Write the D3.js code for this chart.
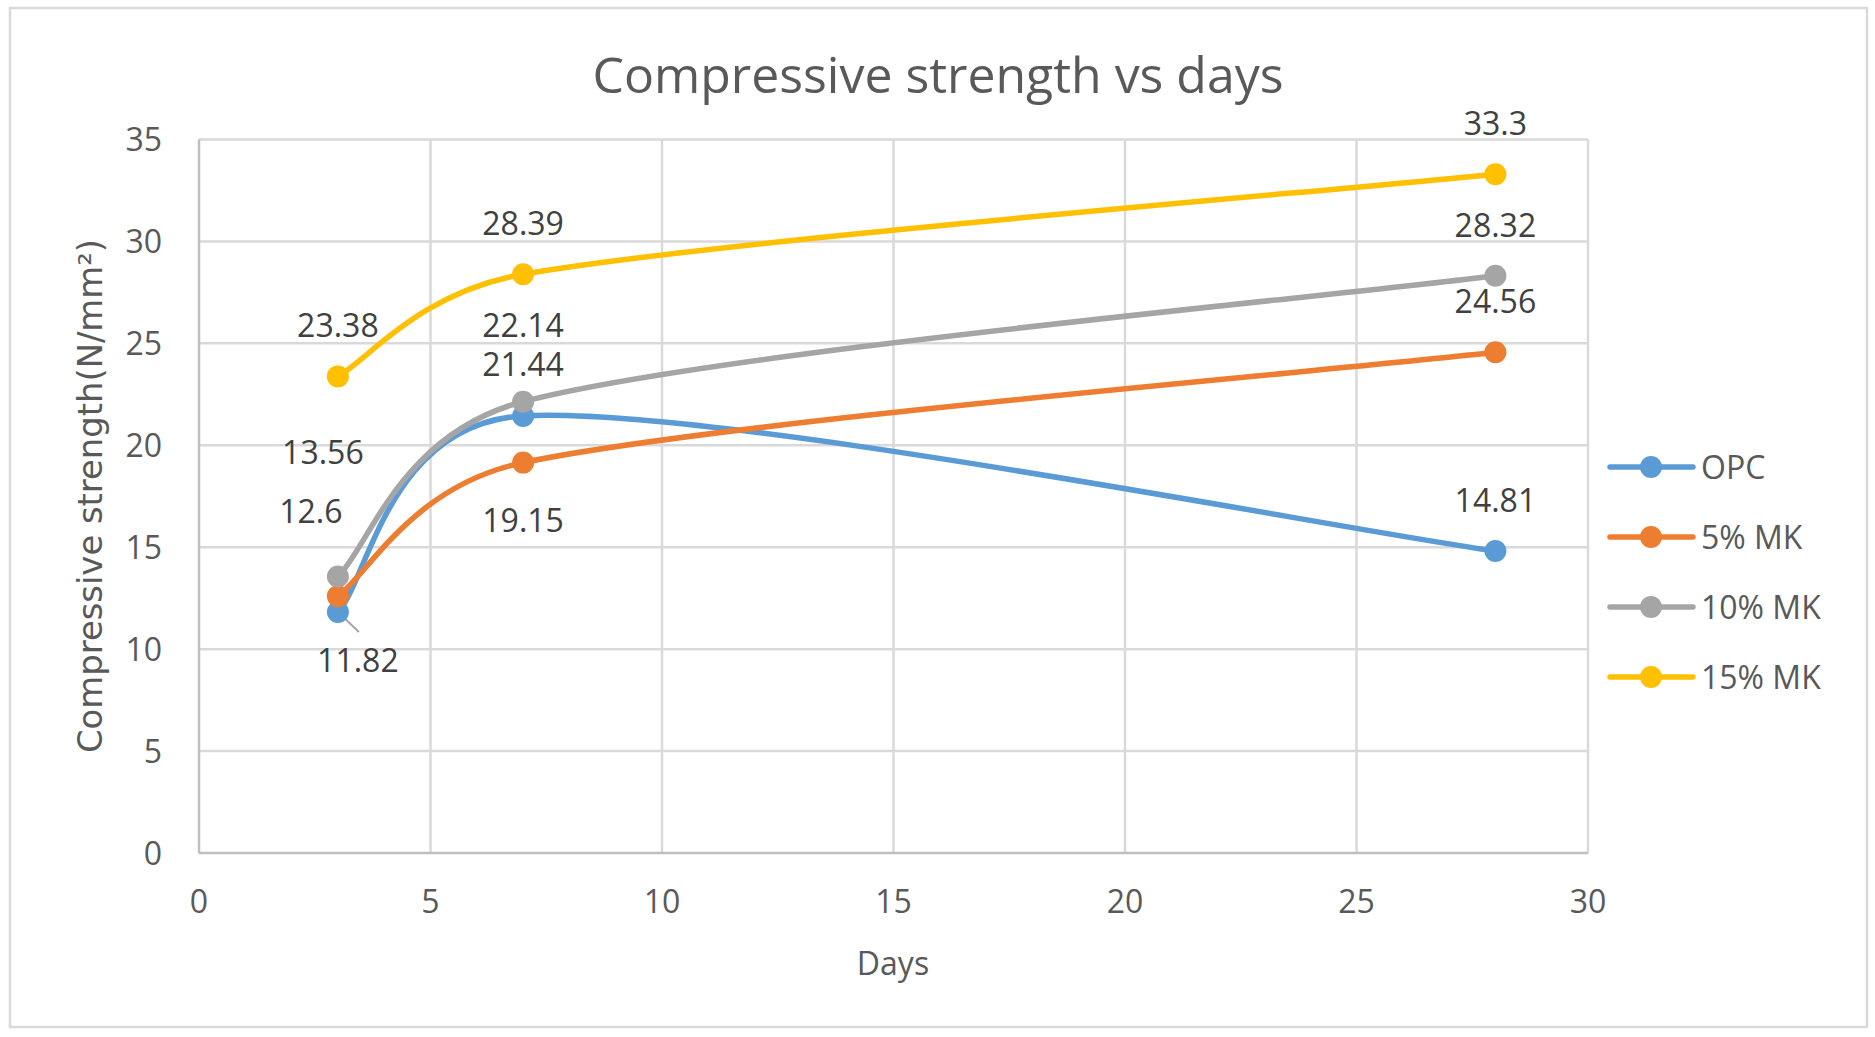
<!DOCTYPE html>
<html>
<head>
<meta charset="utf-8">
<script src="https://d3js.org/d3.v7.min.js"></script>
<style>
    body { margin: 0; background: #fff; }
    #chart-area { width: 1875px; height: 1037px; }
</style>
</head>
<body>
<div id="chart-area"></div>
<script>
// data
var days = [3, 7, 28];
var seriesNames = ["OPC", "5% MK", "10% MK", "15% MK"];
var opc = [11.82, 21.44, 14.81];
var mk5 = [12.6, 19.15, 24.56];
var mk10 = [13.56, 22.14, 28.32];
var mk15 = [23.38, 28.39, 33.3];
var xTicks = [0, 5, 10, 15, 20, 25, 30];
var yTicks = [0, 5, 10, 15, 20, 25, 30, 35];

var colors = ["#5B9BD5", "#ED7D31", "#A5A5A5", "#FFC000"];

// label offsets (px from marker) - some labels were dragged by hand in the original
var labelOffsets = [
    [[20, 60], [0, -40], [0, -39]],
    [[-27, -73], [0, 69], [0, -39]],
    [[-15, -113], [0, -65], [0, -39]],
    [[0, -39], [0, -39], [0, -39]]
];

lineChart = function(_parentElement){
    this.parentElement = _parentElement;
    this.series = [opc, mk5, mk10, mk15].map(function(vals, i){
        return { name: seriesNames[i], color: colors[i],
            values: vals.map(function(v, j){ return { x: days[j], y: v }; }) };
    });
    this.initVis();
}

lineChart.prototype.initVis = function(){
    var vis = this;

    vis.svg = d3.select("#" + vis.parentElement).append("svg")
        .attr("width", 1875)
        .attr("height", 1037);

    vis.svg.append("rect")
        .attr("x", 10).attr("y", 8)
        .attr("width", 1857).attr("height", 1019)
        .attr("fill", "#fff")
        .attr("stroke", "#d9d9d9")
        .attr("stroke-width", 2.5);

    vis.x = d3.scaleLinear().domain([0, 30]).range([199, 1588]);
    vis.y = d3.scaleLinear().domain([0, 35]).range([853, 139.5]);

    vis.updateVis();
}

// Excel style smoothing: bezier with 1/6 tangents, capped at half the segment
lineChart.prototype.smoothPath = function(pts){
    var p = d3.path();
    var dist = function(a, b){ return Math.hypot(b[0] - a[0], b[1] - a[1]); };
    p.moveTo(pts[0][0], pts[0][1]);
    for (var i = 0; i < pts.length - 1; i++) {
        var p0 = pts[Math.max(i - 1, 0)], p1 = pts[i], p2 = pts[i + 1], p3 = pts[Math.min(i + 2, pts.length - 1)];
        var d12 = dist(p1, p2), d02 = dist(p0, p2), d13 = dist(p1, p3);
        var s1 = Math.min(1 / 6, 0.5 * d12 / d02);
        var s2 = Math.min(1 / 6, 0.5 * d12 / d13);
        p.bezierCurveTo(
            p1[0] + (p2[0] - p0[0]) * s1, p1[1] + (p2[1] - p0[1]) * s1,
            p2[0] - (p3[0] - p1[0]) * s2, p2[1] - (p3[1] - p1[1]) * s2,
            p2[0], p2[1]);
    }
    return p.toString();
}

lineChart.prototype.updateVis = function(){
    var vis = this;

    // gridlines
    vis.svg.append("g").selectAll("line.hgrid")
        .data(yTicks.filter(function(d){ return d > 0; }))
        .enter().append("line")
        .attr("x1", vis.x(0)).attr("x2", vis.x(30))
        .attr("y1", function(d){ return vis.y(d); })
        .attr("y2", function(d){ return vis.y(d); })
        .attr("stroke", "#d9d9d9").attr("stroke-width", 2.5);

    vis.svg.append("g").selectAll("line.vgrid")
        .data(xTicks.filter(function(d){ return d > 0; }))
        .enter().append("line")
        .attr("y1", vis.y(0)).attr("y2", vis.y(35))
        .attr("x1", function(d){ return vis.x(d); })
        .attr("x2", function(d){ return vis.x(d); })
        .attr("stroke", "#d9d9d9").attr("stroke-width", 2.5);

    // axes lines
    vis.svg.append("line")
        .attr("x1", vis.x(0)).attr("x2", vis.x(0))
        .attr("y1", vis.y(0)).attr("y2", vis.y(35))
        .attr("stroke", "#bfbfbf").attr("stroke-width", 2.5);
    vis.svg.append("line")
        .attr("x1", vis.x(0)).attr("x2", vis.x(30))
        .attr("y1", vis.y(0)).attr("y2", vis.y(0))
        .attr("stroke", "#bfbfbf").attr("stroke-width", 2.5);

    // tick labels
    vis.svg.append("g").selectAll("text")
        .data(yTicks).enter().append("text")
        .attr("x", 162)
        .attr("y", function(d){ return vis.y(d) + 11.5; })
        .attr("text-anchor", "end")
        .style("font-family", "Open Sans")
        .style("font-size", "32px")
        .style("fill", "#595959")
        .text(function(d){ return d; });

    vis.svg.append("g").selectAll("text")
        .data(xTicks).enter().append("text")
        .attr("x", function(d){ return vis.x(d); })
        .attr("y", 913)
        .attr("text-anchor", "middle")
        .style("font-family", "Open Sans")
        .style("font-size", "32px")
        .style("fill", "#595959")
        .text(function(d){ return d; });

    // title + axis titles
    vis.svg.append("text")
        .attr("x", 938).attr("y", 93)
        .attr("text-anchor", "middle")
        .attr("textLength", 691).attr("lengthAdjust", "spacingAndGlyphs")
        .style("font-family", "Open Sans")
        .style("font-size", "49px")
        .style("fill", "#595959")
        .text("Compressive strength vs days");

    vis.svg.append("text")
        .attr("x", 893).attr("y", 975)
        .attr("text-anchor", "middle")
        .style("font-family", "Open Sans")
        .style("font-size", "32px")
        .style("fill", "#595959")
        .text("Days");

    vis.svg.append("text")
        .attr("transform", "translate(102,496) rotate(-90)")
        .attr("text-anchor", "middle")
        .attr("textLength", 514).attr("lengthAdjust", "spacingAndGlyphs")
        .style("font-family", "DejaVu Sans")
        .style("font-size", "33px")
        .style("fill", "#595959")
        .text("Compressive strength(N/mm²)");

    // lines
    vis.svg.append("g").selectAll("path")
        .data(vis.series).enter().append("path")
        .attr("d", function(s){
            return vis.smoothPath(s.values.map(function(d){ return [vis.x(d.x), vis.y(d.y)]; }));
        })
        .attr("fill", "none")
        .attr("stroke", function(s){ return s.color; })
        .attr("stroke-width", 5.5)
        .attr("stroke-linecap", "round");

    // leader line for the dragged 11.82 label
    vis.svg.append("line")
        .attr("x1", vis.x(days[0])).attr("y1", vis.y(opc[0]))
        .attr("x2", vis.x(days[0]) + 21).attr("y2", vis.y(opc[0]) + 20)
        .attr("stroke", "#a6a6a6").attr("stroke-width", 2);

    // markers
    vis.svg.append("g").selectAll("g")
        .data(vis.series).enter().append("g")
        .attr("fill", function(s){ return s.color; })
        .selectAll("circle")
        .data(function(s){ return s.values; })
        .enter().append("circle")
        .attr("cx", function(d){ return vis.x(d.x); })
        .attr("cy", function(d){ return vis.y(d.y); })
        .attr("r", 11);

    // data labels
    vis.series.forEach(function(s, i){
        vis.svg.append("g").selectAll("text")
            .data(s.values).enter().append("text")
            .attr("x", function(d, j){ return vis.x(d.x) + labelOffsets[i][j][0]; })
            .attr("y", function(d, j){ return vis.y(d.y) + labelOffsets[i][j][1]; })
            .attr("text-anchor", "middle")
            .style("font-family", "Open Sans")
            .style("font-size", "32px")
            .style("fill", "#404040")
            .text(function(d){ return d.y; });
    });

    // legend
    var legend = vis.svg.append("g").selectAll("g")
        .data(vis.series).enter().append("g")
        .attr("transform", function(s, i){ return "translate(0," + (467 + i * 70) + ")"; });
    legend.append("line")
        .attr("x1", 1610).attr("x2", 1693)
        .attr("stroke", function(s){ return s.color; })
        .attr("stroke-width", 5.5)
        .attr("stroke-linecap", "round");
    legend.append("circle")
        .attr("cx", 1651).attr("r", 11)
        .attr("fill", function(s){ return s.color; });
    legend.append("text")
        .attr("x", 1701).attr("y", 11.5)
        .style("font-family", "Open Sans")
        .style("font-size", "32px")
        .style("fill", "#595959")
        .text(function(s){ return s.name; });
}

var chart = new lineChart("chart-area");
</script>
</body>
</html>
